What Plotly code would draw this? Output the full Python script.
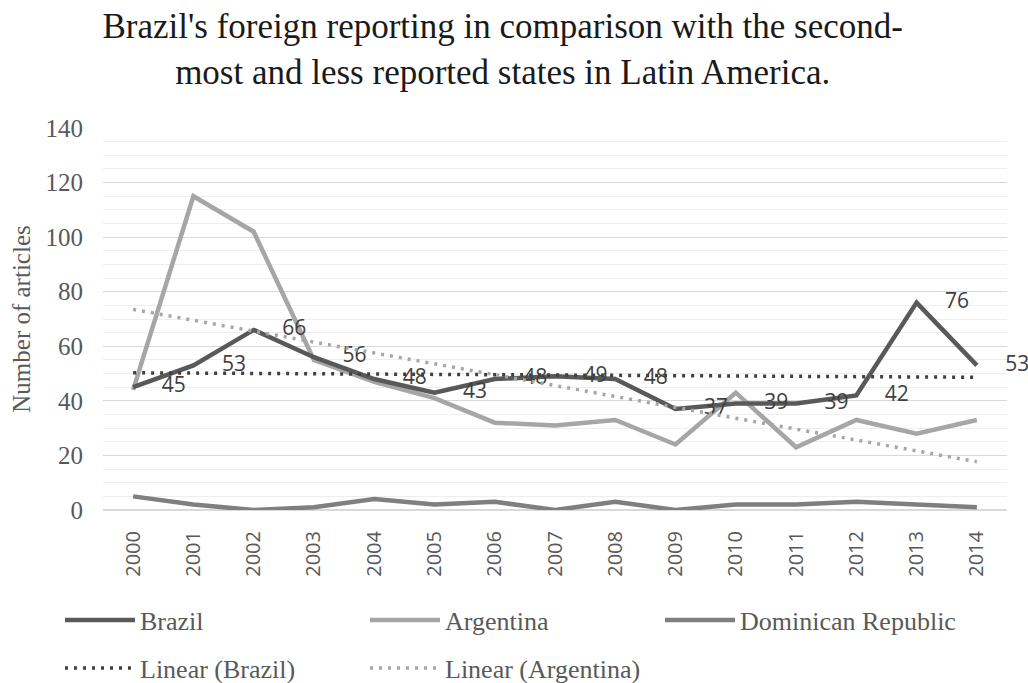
import numpy as np
import plotly.graph_objects as go

years = [str(y) for y in range(2000, 2015)]
brazil = [45, 53, 66, 56, 48, 43, 48, 49, 48, 37, 39, 39, 42, 76, 53]
argentina = [44, 115, 102, 55, 47, 41, 32, 31, 33, 24, 43, 23, 33, 28, 33]
dominican = [5, 2, 0, 1, 4, 2, 3, 0, 3, 0, 2, 2, 3, 2, 1]

idx = np.arange(len(years))
b_fit = np.polyval(np.polyfit(idx, brazil, 1), idx)
a_fit = np.polyval(np.polyfit(idx, argentina, 1), idx)

serif = "Liberation Serif, Times New Roman, serif"
sans = "Open Sans, DejaVu Sans, sans-serif"

fig = go.Figure()
fig.add_trace(go.Scatter(x=years, y=argentina, name="Argentina", mode="lines",
                         line=dict(color="#a6a6a6", width=4.5), legend="legend2"))
fig.add_trace(go.Scatter(x=years, y=dominican, name="Dominican Republic", mode="lines",
                         line=dict(color="#7f7f7f", width=4.5), legend="legend3"))
fig.add_trace(go.Scatter(x=years, y=brazil, name="Brazil", mode="lines+markers+text",
                         text=[str(v) for v in brazil], textposition="middle right",
                         textfont=dict(family=sans, size=21, color="#404040"),
                         marker=dict(size=44, color="rgba(0,0,0,0)"),
                         line=dict(color="#595959", width=4.5), legend="legend",
                         cliponaxis=False))
fig.add_trace(go.Scatter(x=years, y=b_fit, name="Linear (Brazil)", mode="lines",
                         line=dict(color="#404040", width=3.5, dash="3px,6px"), legend="legend4"))
fig.add_trace(go.Scatter(x=years, y=a_fit, name="Linear (Argentina)", mode="lines",
                         line=dict(color="#a6a6a6", width=3.5, dash="3px,6px"), legend="legend5"))


def leg(xpix, ypix):
    return dict(orientation="h", xref="container", yref="container",
                x=(xpix - 5) / 1028, y=1 - ypix / 683,
                xanchor="left", yanchor="middle",
                font=dict(family=serif, size=26, color="#595959"), itemwidth=70,
                bgcolor="rgba(0,0,0,0)")


fig.update_layout(
    width=1028, height=683,
    margin=dict(l=103, r=21, t=128, b=173, autoexpand=False),
    paper_bgcolor="white", plot_bgcolor="white",
    title=dict(text="Brazil's foreign reporting in comparison with the second-<br>most and less reported states in Latin America.",
               font=dict(family=serif, size=35, color="#1a1a1a"),
               x=0.489, xanchor="center", y=1 - 38 / 683, yanchor="top"),
    xaxis=dict(type="category", tickangle=-90, showgrid=False, showline=False,
               tickfont=dict(family=sans, size=20, color="#595959"),
               ticks="outside", ticklen=12, tickcolor="rgba(0,0,0,0)",
               range=[-0.5, 14.5]),
    yaxis=dict(range=[0, 140], dtick=20, showgrid=True, gridcolor="#d9d9d9", gridwidth=1,
               zeroline=True, zerolinecolor="#d9d9d9", zerolinewidth=1.5,
               ticks="outside", ticklen=14, tickcolor="rgba(0,0,0,0)",
               minor=dict(dtick=5, showgrid=True, gridcolor="#eeeeee", gridwidth=1),
               tickfont=dict(family=serif, size=25, color="#595959"),
               title=dict(text="Number of articles", font=dict(family=serif, size=25, color="#595959"),
                          standoff=7)),
    legend=leg(65, 620),
    legend2=leg(370, 620),
    legend3=leg(665, 620),
    legend4=leg(65, 668),
    legend5=leg(370, 668),
    showlegend=True,
)

fig.write_html("out.html")
